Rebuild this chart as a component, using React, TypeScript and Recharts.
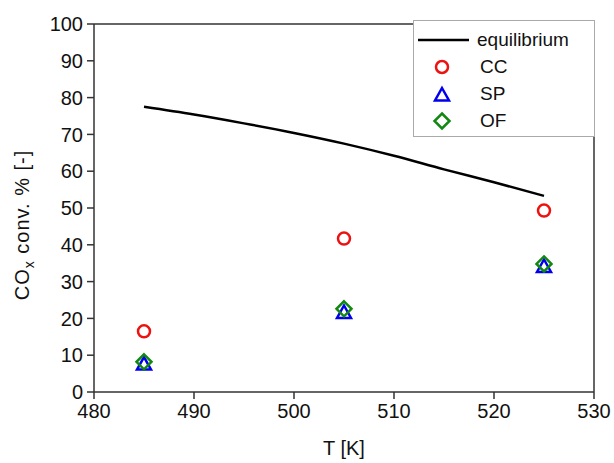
import React from "react";
import {
  ComposedChart,
  Line,
  Scatter,
  XAxis,
  YAxis,
  ReferenceLine,
  Label,
} from "recharts";

const temps = [485, 505, 525];
const ccValues = [16.5, 41.7, 49.3];
const spValues = [7.6, 21.6, 34.1];
const ofValues = [8.2, 22.6, 34.8];

const eqTemps = [485, 490, 495, 500, 505, 510, 515, 520, 525];
const eqValues = [77.5, 75.4, 73.0, 70.4, 67.5, 64.2, 60.5, 57.0, 53.3];

const xTicks = [480, 490, 500, 510, 520, 530];
const yTicks = [0, 10, 20, 30, 40, 50, 60, 70, 80, 90, 100];

const eqData = eqTemps.map((T, i) => ({ T, v: eqValues[i] }));
const ccData = temps.map((T, i) => ({ T, v: ccValues[i] }));
const spData = temps.map((T, i) => ({ T, v: spValues[i] }));
const ofData = temps.map((T, i) => ({ T, v: ofValues[i] }));

const FONT = "'Liberation Sans', Arial, sans-serif";
const AXIS = "#333";

const circleShape = (p: any) => (
  <circle cx={p.cx} cy={p.cy} r={6} fill="none" stroke="#ee1111" strokeWidth={2.5} />
);
const triangleShape = (p: any) => (
  <path
    d={`M${p.cx},${p.cy - 7} L${p.cx + 7},${p.cy + 5.5} L${p.cx - 7},${p.cy + 5.5} Z`}
    fill="none"
    stroke="#0000ee"
    strokeWidth={2.5}
  />
);
const diamondShape = (p: any) => (
  <path
    d={`M${p.cx},${p.cy - 7.5} L${p.cx + 7.5},${p.cy} L${p.cx},${p.cy + 7.5} L${p.cx - 7.5},${p.cy} Z`}
    fill="none"
    stroke="#118811"
    strokeWidth={2.5}
  />
);

const legendItems = [
  { name: "equilibrium", kind: "line" },
  { name: "CC", kind: "circle" },
  { name: "SP", kind: "triangle" },
  { name: "OF", kind: "diamond" },
];

function LegendBox() {
  return (
    <div
      style={{
        position: "absolute",
        left: 413,
        top: 20,
        width: 182,
        height: 117,
        border: "1px solid #aaa",
        background: "#fff",
        fontFamily: FONT,
        fontSize: 19,
        color: "#111",
        boxSizing: "border-box",
        paddingTop: 6,
      }}
    >
      {legendItems.map((it) => (
        <div key={it.name} style={{ display: "flex", alignItems: "center", height: 26.8 }}>
          <svg width={60} height={20} style={{ marginRight: 2 }}>
            {it.kind === "line" && <line x1={4} y1={10} x2={55} y2={10} stroke="#000" strokeWidth={2.5} />}
            {it.kind === "circle" && circleShape({ cx: 28, cy: 10 })}
            {it.kind === "triangle" && triangleShape({ cx: 28, cy: 11 })}
            {it.kind === "diamond" && diamondShape({ cx: 28, cy: 10 })}
          </svg>
          <span style={{ marginLeft: it.kind === "line" ? 1 : 4 }}>{it.name}</span>
        </div>
      ))}
    </div>
  );
}

const YLabel = () => (
  <text
    transform="translate(29, 225) rotate(-90)"
    textAnchor="middle"
    fontFamily={FONT}
    fontSize={20}
    letterSpacing={1}
    fill="#111"
  >
    CO
    <tspan fontSize={14} dy={5}>x</tspan>
    <tspan dy={-5}> conv. % [-]</tspan>
  </text>
);

export default function App() {
  return (
    <div style={{ position: "absolute", left: 0, top: 0, width: 614, height: 463, background: "#fff" }}>
      <ComposedChart
        width={614}
        height={463}
        margin={{ top: 24, right: 20, left: 0, bottom: 0 }}
      >
        <XAxis
          dataKey="T"
          type="number"
          domain={[480, 530]}
          ticks={xTicks}
          interval={0}
          allowDuplicatedCategory={false}
          height={71}
          tickSize={7}
          tickMargin={5}
          stroke={AXIS}
          strokeWidth={1.5}
          tick={{ fill: "#111", fontSize: 20, fontFamily: FONT }}
        >
          <Label
            value="T [K]"
            position="insideBottom"
            offset={8}
            style={{ fill: "#111", fontSize: 20, fontFamily: FONT }}
          />
        </XAxis>
        <YAxis
          dataKey="v"
          type="number"
          domain={[0, 100]}
          ticks={yTicks}
          interval={0}
          width={94}
          tickSize={7}
          tickMargin={4}
          stroke={AXIS}
          strokeWidth={1.5}
          tick={{ fill: "#111", fontSize: 20, fontFamily: FONT }}
          label={<YLabel />}
        />
        <ReferenceLine y={100} stroke={AXIS} strokeWidth={1.5} />
        <ReferenceLine x={530} stroke={AXIS} strokeWidth={1.5} />
        <Line
          data={eqData}
          dataKey="v"
          type="monotone"
          stroke="#000"
          strokeWidth={2.5}
          dot={false}
          isAnimationActive={false}
        />
        <Scatter data={ccData} dataKey="v" shape={circleShape} isAnimationActive={false} />
        <Scatter data={spData} dataKey="v" shape={triangleShape} isAnimationActive={false} />
        <Scatter data={ofData} dataKey="v" shape={diamondShape} isAnimationActive={false} />
      </ComposedChart>
      <LegendBox />
    </div>
  );
}
